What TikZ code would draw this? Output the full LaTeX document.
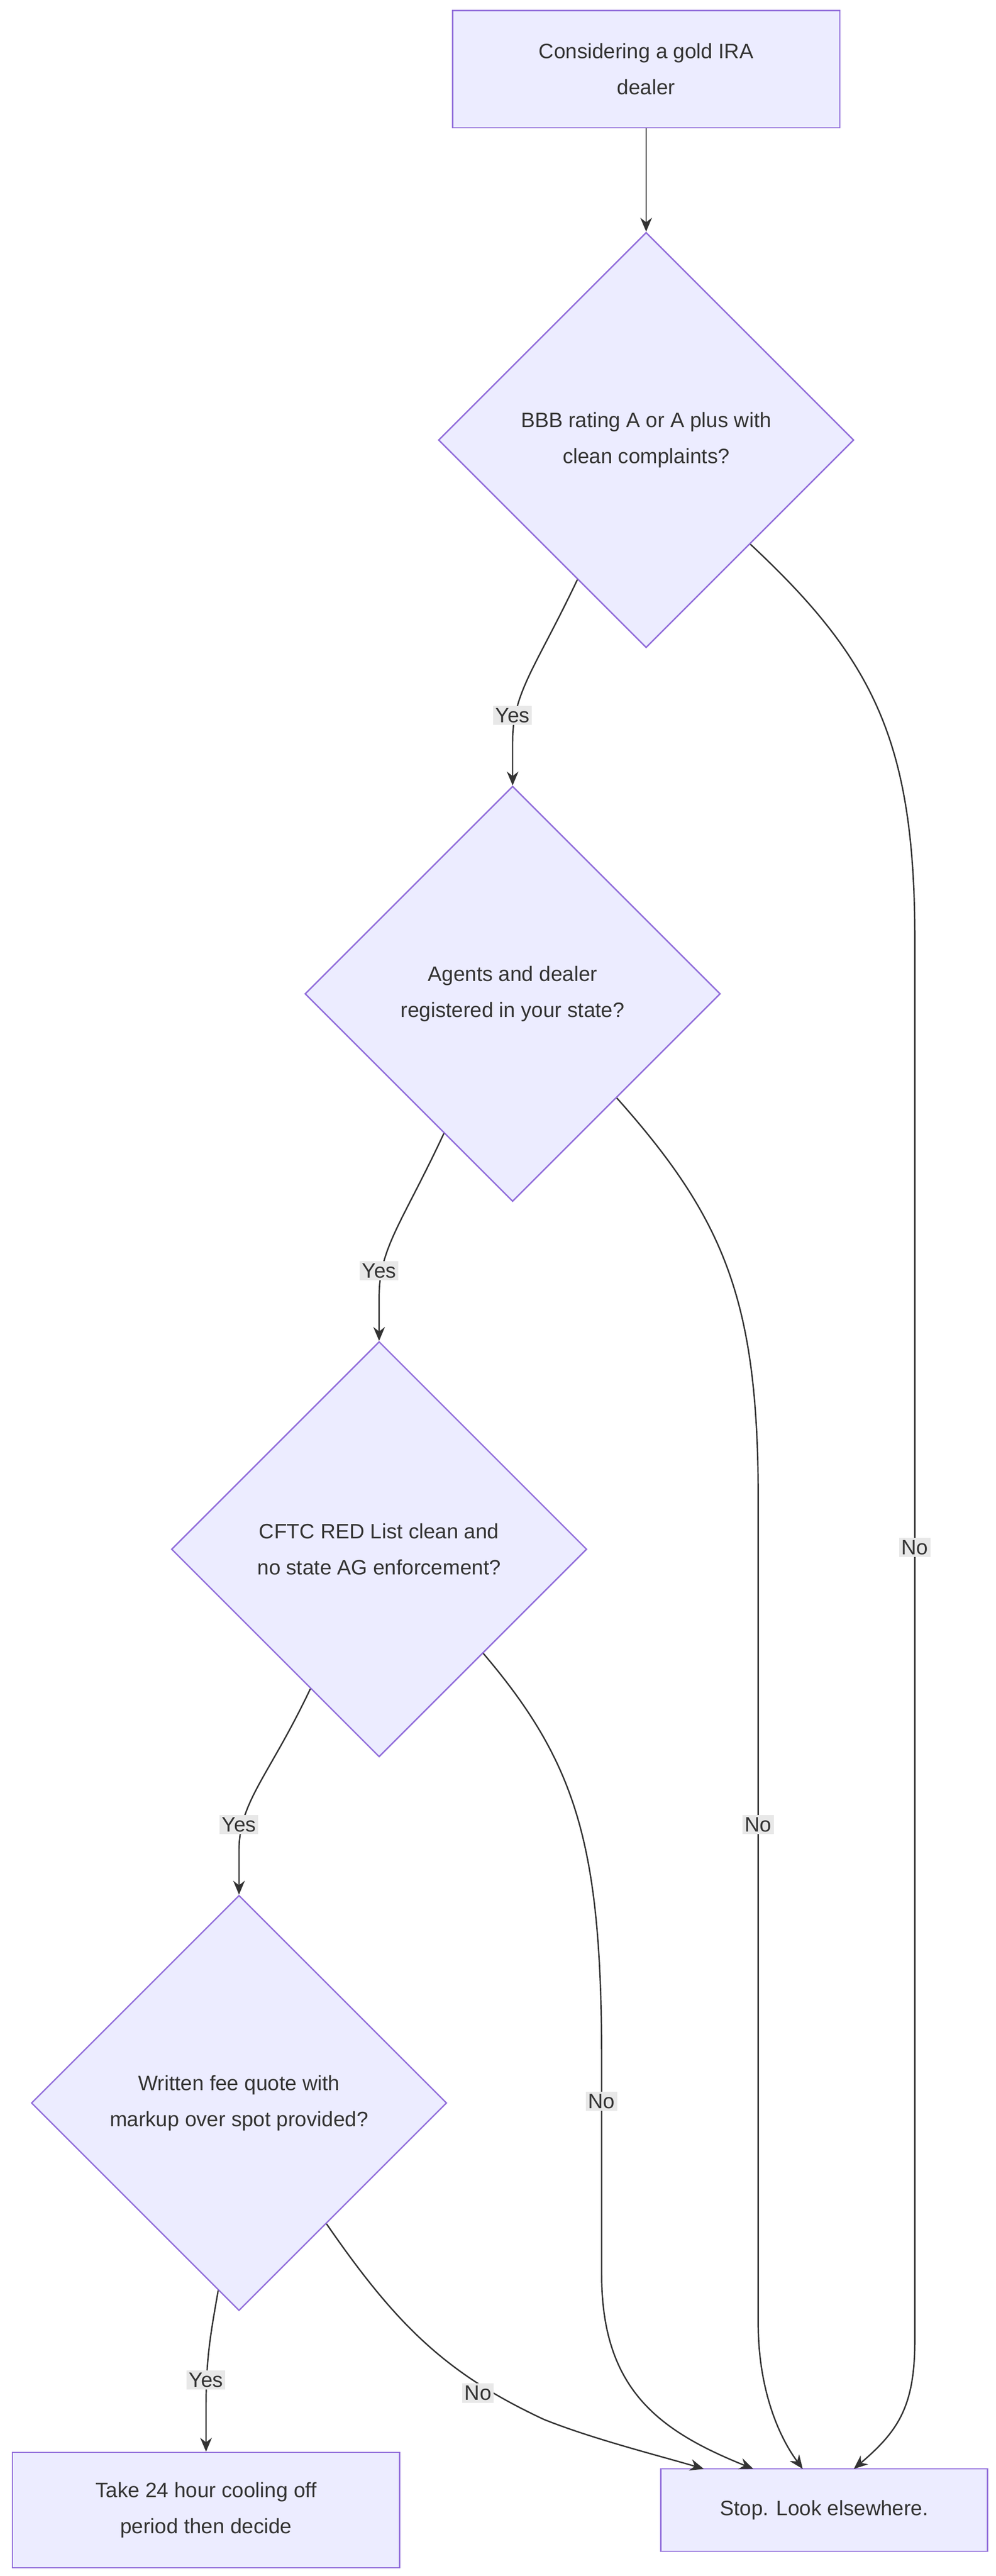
\documentclass[tikz,border=0pt]{standalone}
\usepackage{fontspec}
\setmainfont{Liberation Sans}
\usetikzlibrary{shapes.geometric, arrows.meta, positioning, calc}
\definecolor{nodefill}{HTML}{ECECFF}
\definecolor{nodeline}{HTML}{9370DB}
\definecolor{edgeline}{HTML}{333333}
\definecolor{lblfill}{HTML}{E8E8E8}
\tikzset{
    box/.style={rectangle,draw=nodeline,fill=nodefill,line width=1.2pt,align=center,font=\fontsize{18}{31}\selectfont,text=edgeline},
    check/.style={diamond,draw=nodeline,fill=nodefill,line width=1.2pt,align=center,inner sep=0pt,minimum width=12.6cm,minimum height=12.6cm,font=\fontsize{18}{31}\selectfont,text=edgeline},
    flow/.style={draw=edgeline,line width=1.2pt,-{Stealth[length=12pt,width=10pt]}},
    lbl/.style={fill=lblfill,inner sep=2pt,font=\fontsize{18}{22}\selectfont,text=edgeline}
}
\begin{document}
\begin{tikzpicture}[x=0.05cm,y=-0.05cm]
    \useasboundingbox (0,0) rectangle (604,1563);
    % Nodes
    \node[box,minimum width=11.75cm,minimum height=3.55cm] (start) at (392,42) {Considering a gold IRA\\dealer};
    \node[check] (bbb) at (392,267) {BBB rating A or A plus with\\clean complaints?};
    \node[check] (reg) at (311,603) {Agents and dealer\\registered in your state?};
    \node[check] (cftc) at (230,940) {CFTC RED List clean and\\no state AG enforcement?};
    \node[check] (fee) at (145,1276) {Written fee quote with\\markup over spot provided?};
    \node[box,minimum width=11.75cm,minimum height=3.5cm] (cool) at (125,1523) {Take 24 hour cooling off\\period then decide};
    \node[box,minimum width=9.9cm,minimum height=2.5cm] (stop) at (500,1523) {Stop. Look elsewhere.};

    % Yes edges
    \draw[flow] (start) -- (bbb);
    \draw[flow] ($(bbb.south)!0.33!(bbb.west)$) .. controls (325,405) and (311,420) .. (311,450) -- (reg.north);
    \draw[flow] ($(reg.south)!0.33!(reg.west)$) .. controls (244,742) and (230,757) .. (230,787) -- (cftc.north);
    \draw[flow] ($(cftc.south)!0.33!(cftc.west)$) .. controls (163,1078) and (145,1093) .. (145,1123) -- (fee.north);
    \draw[flow] ($(fee.south)!0.1!(fee.west)$) .. controls (128,1415) and (125,1430) .. (125,1460) -- (cool.north);
    \node[lbl] (y1) at (311,434) {Yes};
    \node[lbl] (y2) at (230,771) {Yes};
    \node[lbl] (y3) at (145,1107) {Yes};
    \node[lbl] (y4) at (125,1444) {Yes};

    % No edges
    \draw[flow] (bbb.south east) .. controls (530,400) and (555,450) .. (555,570) -- (555,1420) .. controls (555,1460) and (545,1475) .. (518,1498);
    \draw[flow] (reg.south east) .. controls (440,740) and (460,790) .. (460,910) -- (460,1410) .. controls (460,1445) and (470,1475) .. (487,1498);
    \draw[flow] (cftc.south east) .. controls (350,1070) and (365,1120) .. (365,1250) -- (365,1380) .. controls (365,1450) and (400,1475) .. (457,1498);
    \draw[flow] ($(fee.south)!0.42!(fee.east)$) .. controls (240,1410) and (270,1440) .. (330,1468) .. controls (360,1480) and (400,1490) .. (427,1498);
    \node[lbl] (n1) at (555,939) {No};
    \node[lbl] (n2) at (460,1107) {No};
    \node[lbl] (n3) at (365,1275) {No};
    \node[lbl] (n4) at (290,1452) {No};
\end{tikzpicture}
\end{document}
